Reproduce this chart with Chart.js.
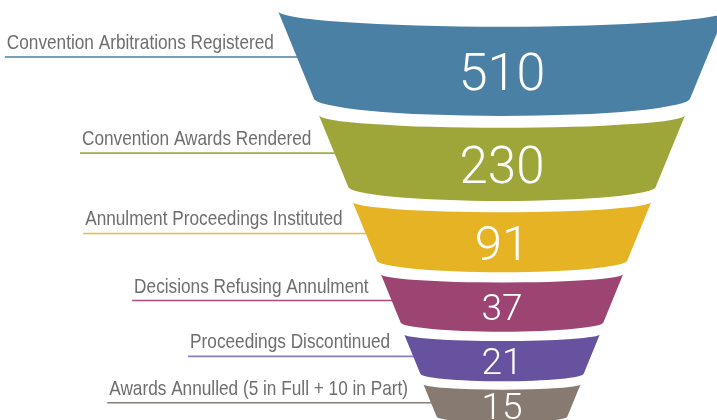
<!DOCTYPE html>
<html>
<head>
<meta charset="utf-8">
<script src="https://cdn.jsdelivr.net/npm/chart.js@4.4.1/dist/chart.umd.min.js"></script>
<style>
html,body{margin:0;padding:0;background:#ffffff;overflow:hidden;}
canvas{display:block;}
</style>
</head>
<body>
<canvas id="funnel" width="717" height="420"></canvas>
<script>
// ---- data ----
const categories = [
  "Convention Arbitrations Registered",
  "Convention Awards Rendered",
  "Annulment Proceedings Instituted",
  "Decisions Refusing Annulment",
  "Proceedings Discontinued",
  "Awards Annulled (5 in Full + 10 in Part)"
];
const values = [510, 230, 91, 37, 21, 15];

// ---- style ----
const segmentColors = ["#4a80a4", "#9ea63a", "#e5b323", "#9c4573", "#67529f", "#877b71"];
const lineColors    = ["#4a80a4", "#a2aa45", "#e8bb3c", "#a84d80", "#8b7cc2", "#8a7f76"];
const valueFontSizes = [52, 51, 49, 37, 37, 37];

const funnelStyle = {
  topY: 11, firstHeight: 87, heightRatio: 0.82, firstGap: 17, gapStep: 1.6,
  topHalfWidth: 224, sideSlope: 0.41, gapSlope: 0.3,
  topSag: 0.07, bottomSag: 0.095,
  labelGap: 23, lineOffset: 2.5, baselineLift: 8,
  labelFont: '21px "Liberation Sans", Arial, sans-serif', labelCondense: 0.82,
  labelColor: '#6e6e6e', valueFontFamily: 'Roboto, "Open Sans", sans-serif'
};

function stageGeometry(n, st) {
  const out = [];
  let y = st.topY, hw = st.topHalfWidth;
  for (let i = 0; i < n; i++) {
    const h = st.firstHeight * Math.pow(st.heightRatio, i);
    const g = { top: y, bottom: y + h, hwTop: hw, hwBottom: hw - st.sideSlope * h };
    out.push(g);
    const gap = st.firstGap - st.gapStep * i;
    y = g.bottom + gap;
    hw = g.hwBottom - st.gapSlope * gap;
  }
  return out;
}

const funnelPlugin = {
  id: 'funnelShapes',
  beforeDatasetsDraw(chart) {
    const ctx = chart.ctx, st = funnelStyle;
    const sx = chart.scales.span, sy = chart.scales.depth;
    const geo = stageGeometry(chart.data.labels.length, st);
    ctx.save();
    chart.data.labels.forEach((label, i) => {
      const g = geo[i];
      const d = (g.top + g.bottom) / 2 + st.lineOffset;
      const hw = g.hwTop - st.sideSlope * (d - g.top);
      const edgeX = sx.getPixelForValue(-hw);
      const lineY = sy.getPixelForValue(d);
      const textRight = sx.getPixelForValue(-hw - st.labelGap);
      ctx.font = st.labelFont;
      const w = ctx.measureText(label).width * st.labelCondense;
      ctx.strokeStyle = lineColors[i];
      ctx.lineWidth = 1.6;
      ctx.beginPath();
      ctx.moveTo(textRight - w - 2, lineY);
      ctx.lineTo(edgeX + 6, lineY);
      ctx.stroke();
      ctx.save();
      ctx.translate(textRight, lineY - st.baselineLift);
      ctx.scale(st.labelCondense, 1);
      ctx.fillStyle = st.labelColor;
      ctx.textAlign = 'right';
      ctx.textBaseline = 'alphabetic';
      ctx.fillText(label, 0, 0);
      ctx.restore();
    });
    ctx.restore();
  },
  afterDatasetsDraw(chart) {
    const ctx = chart.ctx, st = funnelStyle;
    const sx = chart.scales.span, sy = chart.scales.depth;
    const ds = chart.data.datasets[0];
    const geo = stageGeometry(ds.data.length, st);
    const cx = sx.getPixelForValue(0);
    ctx.save();
    ds.data.forEach((v, i) => {
      const g = geo[i];
      const yT = sy.getPixelForValue(g.top), yB = sy.getPixelForValue(g.bottom);
      const rxT = sx.getPixelForValue(g.hwTop) - cx;
      const rxB = sx.getPixelForValue(g.hwBottom) - cx;
      const ryT = sy.getPixelForValue(g.top + g.hwTop * st.topSag) - yT;
      const ryB = sy.getPixelForValue(g.bottom + g.hwBottom * st.bottomSag) - yB;
      ctx.fillStyle = segmentColors[i];
      ctx.beginPath();
      ctx.moveTo(cx - rxT, yT);
      ctx.ellipse(cx, yT, rxT, ryT, 0, Math.PI, 0, true);
      ctx.lineTo(cx + rxB, yB);
      ctx.ellipse(cx, yB, rxB, ryB, 0, 0, Math.PI, false);
      ctx.closePath();
      ctx.fill();
      // value label centred in the visible band
      const fs = valueFontSizes[i];
      const mid = (yT + ryT + yB + ryB) / 2;
      ctx.font = '300 ' + fs + 'px ' + st.valueFontFamily;
      ctx.fillStyle = '#ffffff';
      ctx.textAlign = 'center';
      ctx.textBaseline = 'alphabetic';
      ctx.fillText(String(v), cx, mid + fs * 0.711 / 2);
    });
    ctx.restore();
  }
};

new Chart(document.getElementById('funnel'), {
  type: 'bar',
  data: {
    labels: categories,
    datasets: [{
      label: 'ICSID',
      data: values,
      backgroundColor: 'rgba(0,0,0,0)',
      borderWidth: 0
    }]
  },
  options: {
    indexAxis: 'y',
    responsive: false,
    animation: false,
    events: [],
    layout: { padding: 0 },
    plugins: { legend: { display: false }, tooltip: { enabled: false } },
    scales: {
      x: { display: false },
      y: { display: false },
      span:  { type: 'linear', axis: 'x', min: -502, max: 215, offset: false, display: false },
      depth: { type: 'linear', axis: 'y', min: 0, max: 420, reverse: true, offset: false, display: false }
    }
  },
  plugins: [funnelPlugin]
});
</script>
</body>
</html>
